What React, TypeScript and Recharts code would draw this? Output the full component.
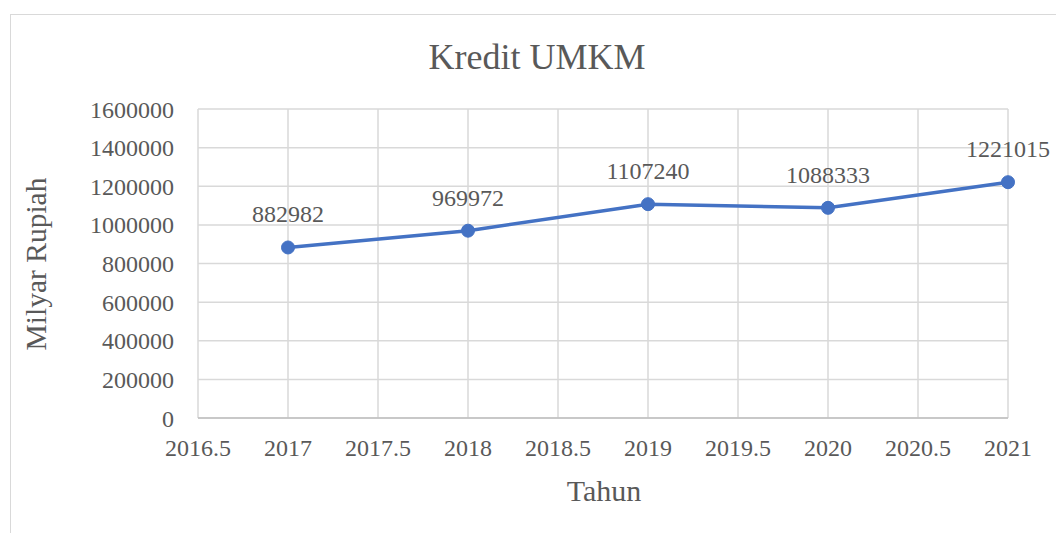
import React from 'react';
import { LineChart, Line, XAxis, YAxis, CartesianGrid, LabelList } from 'recharts';

const years = [2017, 2018, 2019, 2020, 2021];
const kredit = [882982, 969972, 1107240, 1088333, 1221015];
const xTicks = [2016.5, 2017, 2017.5, 2018, 2018.5, 2019, 2019.5, 2020, 2020.5, 2021];
const yTicks = [0, 200000, 400000, 600000, 800000, 1000000, 1200000, 1400000, 1600000];
const chartTitle = 'Kredit UMKM';
const xTitle = 'Tahun';
const yTitle = 'Milyar Rupiah';

const data = years.map((y, i) => ({ year: y, value: kredit[i] }));

const FONT = '"Liberation Serif", "Times New Roman", serif';
const TEXT = '#595959';
const W = 1056;
const H = 533;

const ValueLabel = (props: any) => {
  const { x, y, value } = props;
  const s = String(value);
  const approxW = s.length * 12.3;
  let cx = x;
  if (cx + approxW / 2 > W - 2) cx = W - 2 - approxW / 2;
  return (
    <text x={cx} y={y - 33} textAnchor="middle" dominantBaseline="central" fill={TEXT} fontFamily={FONT} fontSize={24}>
      {s}
    </text>
  );
};

export default function App() {
  return (
    <div style={{ position: 'absolute', left: 0, top: 0, width: W, height: H, overflow: 'hidden', background: '#fff' }}>
      <div style={{ position: 'absolute', left: 10, top: 14, width: 1200, height: 700, border: '1.5px solid #d9d9d9' }} />
      <div style={{ position: 'absolute', left: 0, top: 0 }}>
        <LineChart width={W} height={H} data={data} margin={{ top: 109, right: 48, left: 0, bottom: 0 }}>
          <CartesianGrid stroke="#d9d9d9" strokeWidth={1.5} horizontal vertical />
          <XAxis
            dataKey="year"
            type="number"
            domain={[2016.5, 2021]}
            ticks={xTicks}
            height={115}
            tickLine={false}
            axisLine={{ stroke: '#bfbfbf', strokeWidth: 1.5 }}
            tickMargin={15}
            interval={0}
            tick={{ fill: TEXT, fontFamily: FONT, fontSize: 24 }}
          />
          <YAxis
            type="number"
            domain={[0, 1600000]}
            ticks={yTicks}
            width={198}
            tickLine={false}
            axisLine={false}
            tickMargin={18}
            interval={0}
            tick={{ fill: TEXT, fontFamily: FONT, fontSize: 24 }}
          />
          <Line
            dataKey="value"
            stroke="#4472c4"
            strokeWidth={3.5}
            dot={{ r: 6.5, fill: '#4472c4', stroke: '#4472c4', strokeWidth: 1 }}
            isAnimationActive={false}
          >
            <LabelList dataKey="value" content={ValueLabel} />
          </Line>
        </LineChart>
      </div>
      <svg width={W} height={H} style={{ position: 'absolute', left: 0, top: 0, pointerEvents: 'none' }}>
        <text x={537} y={57} textAnchor="middle" dominantBaseline="central" fill={TEXT} fontFamily={FONT} fontSize={36}>
          {chartTitle}
        </text>
        <text x={604} y={490} textAnchor="middle" dominantBaseline="central" fill={TEXT} fontFamily={FONT} fontSize={30}>
          {xTitle}
        </text>
        <text x={36} y={264} textAnchor="middle" dominantBaseline="central" fill={TEXT} fontFamily={FONT} fontSize={29.5} transform="rotate(-90 36 264)">
          {yTitle}
        </text>
      </svg>
    </div>
  );
}
